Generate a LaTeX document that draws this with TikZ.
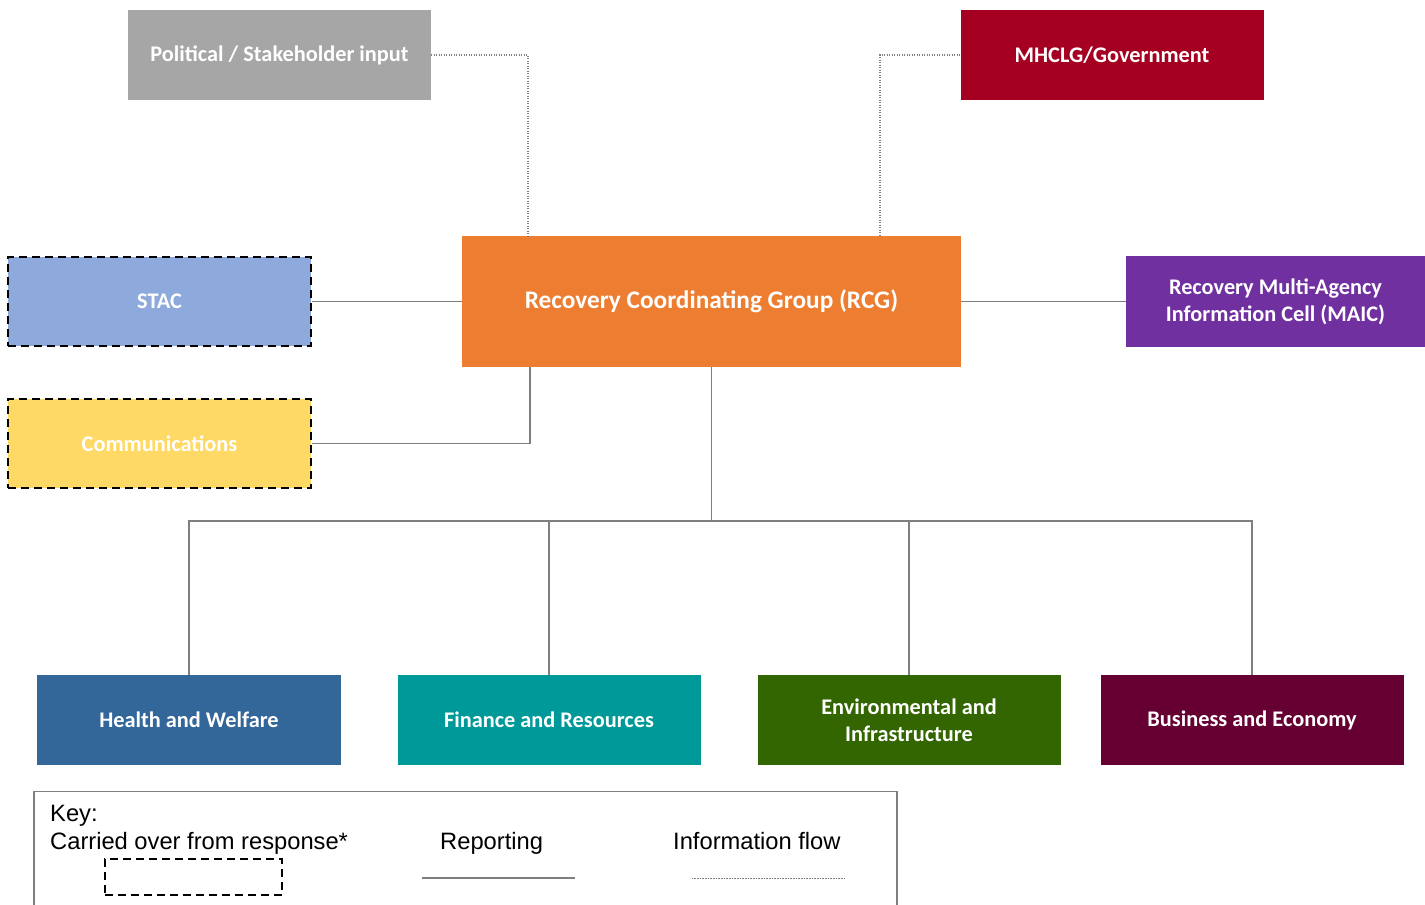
\documentclass[tikz,border=0pt]{standalone}
\usepackage{fontspec}
\setmainfont{Carlito}
\newfontfamily\keyfont{Liberation Sans}
\definecolor{cGrey}{HTML}{A6A6A6}
\definecolor{cGov}{HTML}{A50021}
\definecolor{cRCG}{HTML}{ED7D31}
\definecolor{cSTAC}{HTML}{8EA9DB}
\definecolor{cComm}{HTML}{FFD966}
\definecolor{cMAIC}{HTML}{7030A0}
\definecolor{cHW}{HTML}{336699}
\definecolor{cFR}{HTML}{009999}
\definecolor{cEI}{HTML}{336600}
\definecolor{cBE}{HTML}{660033}
\definecolor{cLine}{HTML}{7F7F7F}
\tikzset{
  box/.style={rectangle, inner sep=0pt, minimum width=303bp, minimum height=90bp,
    text=white, align=center, font=\bfseries\fontsize{22.4}{27}\selectfont},
  carried/.style={draw=black, line width=1.6bp, dash pattern=on 8bp off 5bp},
  report/.style={draw=cLine, line width=1.3bp},
  info/.style={draw=cLine, line width=1.2bp, dash pattern=on 1.2bp off 1.3bp},
  keytext/.style={inner sep=0pt, anchor=base west, font=\keyfont\fontsize{23.8}{28}\selectfont},
}
\begin{document}
\begin{tikzpicture}[x=1bp, y=-1bp]
\useasboundingbox (0,0) rectangle (1425,904);

% top row
\node[box, fill=cGrey] (pol) at (279.5,55) {Political / Stakeholder input};
\node[box, fill=cGov] (gov) at (1112,55) {MHCLG/Government};

% centre
\node[box, fill=cRCG, minimum width=499bp, minimum height=131bp,
      font=\bfseries\fontsize{25.4}{30}\selectfont] (rcg) at (711.5,301.5) {Recovery Coordinating Group (RCG)};
\node[box, fill=cSTAC, carried, minimum height=89bp] (stac) at (159.5,301.5) {STAC};
\node[box, fill=cComm, carried, minimum height=89bp] (comms) at (159.5,443.5) {Communications};
\node[box, fill=cMAIC, minimum width=299bp, minimum height=91bp] (maic) at (1275.5,301.5)
  {Recovery Multi-Agency\\Information Cell (MAIC)};

% workstreams
\node[box, fill=cHW] (hw) at (189,720) {Health and Welfare};
\node[box, fill=cFR] (fr) at (549,720) {Finance and Resources};
\node[box, fill=cEI] (ei) at (909,720) {Environmental and\\Infrastructure};
\node[box, fill=cBE] (be) at (1252,720) {Business and Economy};

% information flow
\draw[info] (pol.east) -| (528,236);
\draw[info] (gov.west) -| (880,236);

% reporting
\draw[report] (stac.east) -- (rcg.west);
\draw[report] (maic.west) -- (rcg.east);
\draw[report] (comms.east) -| (530,367);
\coordinate (bus) at (711.5,521);
\draw[report] (rcg.south) -- (bus);
\draw[report] (hw.north) |- (be.north |- bus) -- (be.north);
\draw[report] (fr.north) -- (fr.north |- bus);
\draw[report] (ei.north) -- (ei.north |- bus);

% key
\draw[draw=cLine, line width=1.3bp] (34,906) -- (34,791.5) -- (897,791.5) -- (897,906);
\node[keytext] (keyt) at (50,821) {Key:};
\node[keytext] (kcar) at (50,849) {Carried over from response*};
\node[keytext] (krep) at (440,849) {Reporting};
\node[keytext] (kinf) at (673,849) {Information flow};
\node[carried, rectangle, inner sep=0pt, minimum width=177bp, minimum height=36bp] (kbox) at (193.5,877) {};
\coordinate (r1) at (422,878);
\coordinate (r2) at (575,878);
\draw[report] (r1) -- (r2);
\coordinate (i1) at (692,878);
\coordinate (i2) at (845,878);
\draw[info, line width=1bp, dash pattern=on 0.8bp off 0.8bp] (i1) -- (i2);
\end{tikzpicture}
\end{document}
